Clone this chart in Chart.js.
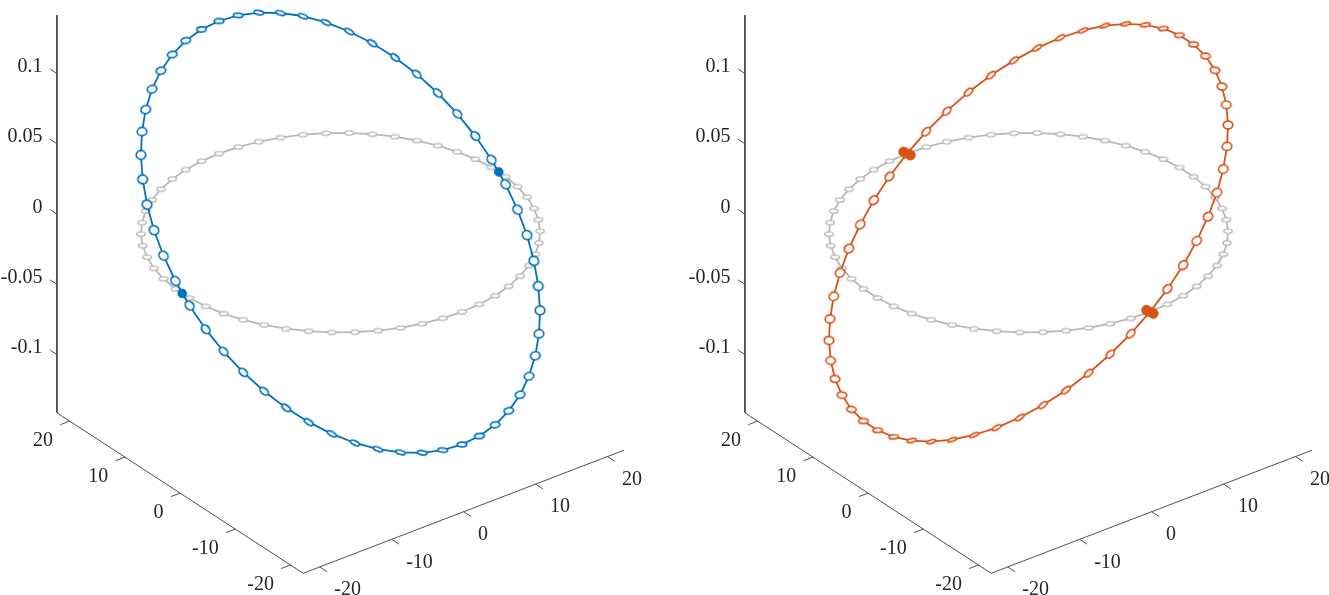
<!DOCTYPE html>
<html><head><meta charset="utf-8">
<script src="https://cdn.jsdelivr.net/npm/chart.js@4/dist/chart.umd.min.js"></script>
<style>
html,body{margin:0;padding:0;background:#fff;overflow:hidden}
#wrap{position:relative;width:1329px;height:595px}
canvas{position:absolute;top:0}
</style></head><body>
<div id="wrap">
<canvas id="c1" width="664" height="595" style="left:0px"></canvas>
<canvas id="c2" width="664" height="595" style="left:665px"></canvas>
</div>
<script>
// ---------------- data ----------------
const orbitX = [21.96,21.67,21.08,20.20,19.05,17.65,16.00,14.14,12.09,9.87,7.52,5.07,2.55,0.00,-2.55,-5.07,-7.52,-9.87,-12.09,-14.14,-16.00,-17.65,-19.05,-20.20,-21.08,-21.67,-21.96,
  -21.96,-21.67,-21.08,-20.20,-19.05,-17.65,-16.00,-14.14,-12.09,-9.87,-7.52,-5.07,-2.55,0.00,2.55,5.07,7.52,9.87,12.09,14.14,16.00,17.65,19.05,20.20,21.08,21.67,21.96];
const orbitY = [1.28,3.82,6.31,8.71,11.00,13.14,15.10,16.85,18.38,19.66,20.67,21.41,21.85,22.00,21.85,21.41,20.67,19.66,18.38,16.85,15.10,13.14,11.00,8.71,6.31,3.82,1.28,
  -1.28,-3.82,-6.31,-8.71,-11.00,-13.14,-15.10,-16.85,-18.38,-19.66,-20.67,-21.41,-21.85,-22.00,-21.85,-21.41,-20.67,-19.66,-18.38,-16.85,-15.10,-13.14,-11.00,-8.71,-6.31,-3.82,-1.28];
const zGray = [0,0,0,0,0,0,0,0,0,0,0,0,0,0,0,0,0,0,0,0,0,0,0,0,0,0,0,
  0,0,0,0,0,0,0,0,0,0,0,0,0,0,0,0,0,0,0,0,0,0,0,0,0,0,0];
const zBlue = [0.0055,0.0164,0.0270,0.0374,0.0472,0.0563,0.0647,0.0722,0.0788,0.0843,0.0886,0.0918,0.0937,0.0943,0.0937,0.0918,0.0886,0.0843,0.0788,0.0722,0.0647,0.0563,0.0472,0.0374,0.0270,0.0164,0.0055,
  -0.0055,-0.0164,-0.0270,-0.0374,-0.0472,-0.0563,-0.0647,-0.0722,-0.0788,-0.0843,-0.0886,-0.0918,-0.0937,-0.0943,-0.0937,-0.0918,-0.0886,-0.0843,-0.0788,-0.0722,-0.0647,-0.0563,-0.0472,-0.0374,-0.0270,-0.0164,-0.0055];
const zOrange = [0.0941,0.0929,0.0903,0.0866,0.0817,0.0756,0.0686,0.0606,0.0518,0.0423,0.0323,0.0217,0.0109,0.0000,-0.0109,-0.0217,-0.0323,-0.0423,-0.0518,-0.0606,-0.0686,-0.0756,-0.0817,-0.0866,-0.0903,-0.0929,-0.0941,
  -0.0941,-0.0929,-0.0903,-0.0866,-0.0817,-0.0756,-0.0686,-0.0606,-0.0518,-0.0423,-0.0323,-0.0217,-0.0109,0.0000,0.0109,0.0217,0.0323,0.0423,0.0518,0.0606,0.0686,0.0756,0.0817,0.0866,0.0903,0.0929,0.0941];
const nodeBlueX = [22.0,-22.0];
const nodeBlueY = [0.0,0.0];
const nodeBlueZ = [0.0,0.0];
const nodeOrangeX = [0.47,-0.47,0.47,-0.47];
const nodeOrangeY = [22.0,22.0,-22.0,-22.0];
const nodeOrangeZ = [-0.0021,0.0021,-0.0021,0.0021];
const xTicks = [-20,-10,0,10,20];
const yTicks = [-20,-10,0,10,20];
const zTicks = [-0.1,-0.05,0,0.05,0.1];
const xTickLabels = ['-20','-10','0','10','20'];
const yTickLabels = ['-20','-10','0','10','20'];
const zTickLabels = ['-0.1','-0.05','0','0.05','0.1'];
const XLIM = [-22.3,22.3], YLIM = [-22.3,22.3], ZLIM = [-0.1414,0.1414];

// ---------------- view / style ----------------
const VIEW = {az:37.5, el:30, S:202.25, H:198.8, cv:232.7};
const BLUE = '#0072BD', ORANGE = '#D95319', GRAY = '#B8B8B8', AXIS = '#3c3c3c', TEXT = '#262626';
const MR_GRAY = 0.021, MR_COLOR = 0.0235;   // marker disc radius in normalised box units
const FS = 20;

function nrm(x,y,z){
  return [(2*x-(XLIM[0]+XLIM[1]))/(XLIM[1]-XLIM[0]),
          (2*y-(YLIM[0]+YLIM[1]))/(YLIM[1]-YLIM[0]),
          (2*z-(ZLIM[0]+ZLIM[1]))/(ZLIM[1]-ZLIM[0])];
}
function P(n){
  const a=VIEW.az*Math.PI/180, e=VIEW.el*Math.PI/180;
  return {x: VIEW.S*(Math.cos(a)*n[0]-Math.sin(a)*n[1]),
          y: VIEW.S*Math.sin(e)*(Math.sin(a)*n[0]+Math.cos(a)*n[1]) + VIEW.H*n[2]};
}
function lin(v){ const p=P(v); return [p.x,-p.y]; }
function pts(xs,ys,zs){ return xs.map((x,i)=>P(nrm(x,ys[i],zs[i]))); }

function markerImages(xs,ys,zs,color,lw,r){
  const N=xs.length, imgs=[], rots=[];
  const ns=xs.map((x,i)=>nrm(x,ys[i],zs[i]));
  for(let i=0;i<N;i++){
    const a=ns[(i-1+N)%N], b=ns[(i+1)%N], c=ns[i];
    let t=[b[0]-a[0],b[1]-a[1],b[2]-a[2]]; const tl=Math.hypot(t[0],t[1],t[2]); t=t.map(v=>v/tl);
    let h=[c[0],c[1],0]; const d=h[0]*t[0]+h[1]*t[1];
    h=[h[0]-d*t[0],h[1]-d*t[1],h[2]-d*t[2]]; const hl=Math.hypot(h[0],h[1],h[2]); h=h.map(v=>v/hl);
    const m1=lin(t), m2=lin(h);
    const E11=m1[0]*m1[0]+m2[0]*m2[0], E12=m1[0]*m1[1]+m2[0]*m2[1], E22=m1[1]*m1[1]+m2[1]*m2[1];
    const ang=0.5*Math.atan2(2*E12,E11-E22);
    const mean=(E11+E22)/2, dev=Math.sqrt(((E11-E22)/2)**2+E12*E12);
    const rx=r*Math.sqrt(mean+dev), ry=r*Math.sqrt(Math.max(mean-dev,0));
    const cv=document.createElement('canvas');
    cv.width=Math.ceil(2*rx+lw+4); cv.height=Math.ceil(2*ry+lw+4);
    const g=cv.getContext('2d');
    g.beginPath(); g.ellipse(cv.width/2,cv.height/2,rx,ry,0,0,2*Math.PI);
    g.fillStyle='#fff'; g.fill(); g.lineWidth=lw; g.strokeStyle=color; g.stroke();
    imgs.push(cv); rots.push(ang*180/Math.PI);
  }
  return {imgs,rots};
}

const TL = {z:0.055, y:0.058, x:0.060};
function tickData(){
  const out=[], gap={x:NaN,y:NaN};
  zTicks.forEach(t=>{const n=nrm(XLIM[0],YLIM[1],t); out.push(P(n),P([n[0],n[1]+TL.z,n[2]]),gap);});
  yTicks.forEach(t=>{const n=nrm(XLIM[0],t,ZLIM[0]); out.push(P(n),P([n[0]-TL.y,n[1],n[2]]),gap);});
  xTicks.forEach(t=>{const n=nrm(t,YLIM[0],ZLIM[0]); out.push(P(n),P([n[0],n[1]-TL.x,n[2]]),gap);});
  return out;
}
function boxData(){
  return [P(nrm(XLIM[0],YLIM[1],ZLIM[1])),P(nrm(XLIM[0],YLIM[1],ZLIM[0])),
          P(nrm(XLIM[0],YLIM[0],ZLIM[0])),P(nrm(XLIM[1],YLIM[0],ZLIM[0]))];
}

const labelPlugin = {
  id:'axlabels',
  afterDraw(chart){
    const c=chart.ctx, sx=chart.scales.x, sy=chart.scales.y;
    const asc=0.34*FS;
    c.save();
    c.font=FS+'px "Liberation Serif", "Times New Roman", serif';
    c.fillStyle=TEXT; c.textBaseline='alphabetic';
    const px=p=>sx.getPixelForValue(p.x), py=p=>sy.getPixelForValue(p.y);
    c.textAlign='right';
    zTicks.forEach((t,i)=>{const p=P(nrm(XLIM[0],YLIM[1],t)); c.fillText(zTickLabels[i],px(p)-14.5,py(p)-8.3+asc);});
    yTicks.forEach((t,i)=>{const p=P(nrm(XLIM[0],t,ZLIM[0])); c.fillText(yTickLabels[i],px(p)-16.5,py(p)+17.8+asc);});
    c.textAlign='left';
    xTicks.forEach((t,i)=>{const p=P(nrm(t,YLIM[0],ZLIM[0])); c.fillText(xTickLabels[i],px(p)+14.5,py(p)+21.5+asc);});
    c.restore();
  }
};

function build(id,cu,color,zData,nx,ny,nz,nodeR){
  const cvs=document.getElementById(id);
  const W=cvs.width, H=cvs.height, N=orbitX.length;
  const gm=markerImages(orbitX,orbitY,zGray,GRAY,1.4,MR_GRAY);
  const cm=markerImages(orbitX,orbitY,zData,color,1.7,MR_COLOR);
  const gp=pts(orbitX,orbitY,zGray); gp.push(gp[0]);
  const cp=pts(orbitX,orbitY,zData); cp.push(cp[0]);
  const np=pts(nx,ny,nz);
  new Chart(cvs,{
    type:'scatter',
    data:{datasets:[
      {data:np,showLine:false,pointStyle:'circle',pointRadius:nodeR,pointBorderWidth:0.8,
       pointBackgroundColor:color,pointBorderColor:color,clip:false},
      {data:cp,showLine:true,borderColor:color,borderWidth:1.8,tension:0,clip:false,
       pointStyle:ctx=>cm.imgs[ctx.dataIndex%N],pointRotation:ctx=>cm.rots[ctx.dataIndex%N],
       pointRadius:ctx=>ctx.dataIndex<N?5:0},
      {data:gp,showLine:true,borderColor:GRAY,borderWidth:1.8,tension:0,clip:false,
       pointStyle:ctx=>gm.imgs[ctx.dataIndex%N],pointRotation:ctx=>gm.rots[ctx.dataIndex%N],
       pointRadius:ctx=>ctx.dataIndex<N?5:0},
      {data:tickData(),showLine:true,borderColor:AXIS,borderWidth:0.9,pointRadius:0,spanGaps:false,clip:false},
      {data:boxData(),showLine:true,borderColor:AXIS,borderWidth:0.9,pointRadius:0,clip:false}
    ]},
    options:{
      responsive:false,maintainAspectRatio:false,animation:false,devicePixelRatio:1,events:[],
      layout:{padding:0,autoPadding:false},
      plugins:{legend:{display:false},tooltip:{enabled:false}},
      scales:{
        x:{type:'linear',display:false,min:-cu,max:W-cu},
        y:{type:'linear',display:false,min:VIEW.cv-H,max:VIEW.cv}
      }
    },
    plugins:[labelPlugin]
  });
}
build('c1',340.5,BLUE,zBlue,nodeBlueX,nodeBlueY,nodeBlueZ,4.4);
build('c2',1028.5-665,ORANGE,zOrange,nodeOrangeX,nodeOrangeY,nodeOrangeZ,4.9);
</script>
</body></html>
